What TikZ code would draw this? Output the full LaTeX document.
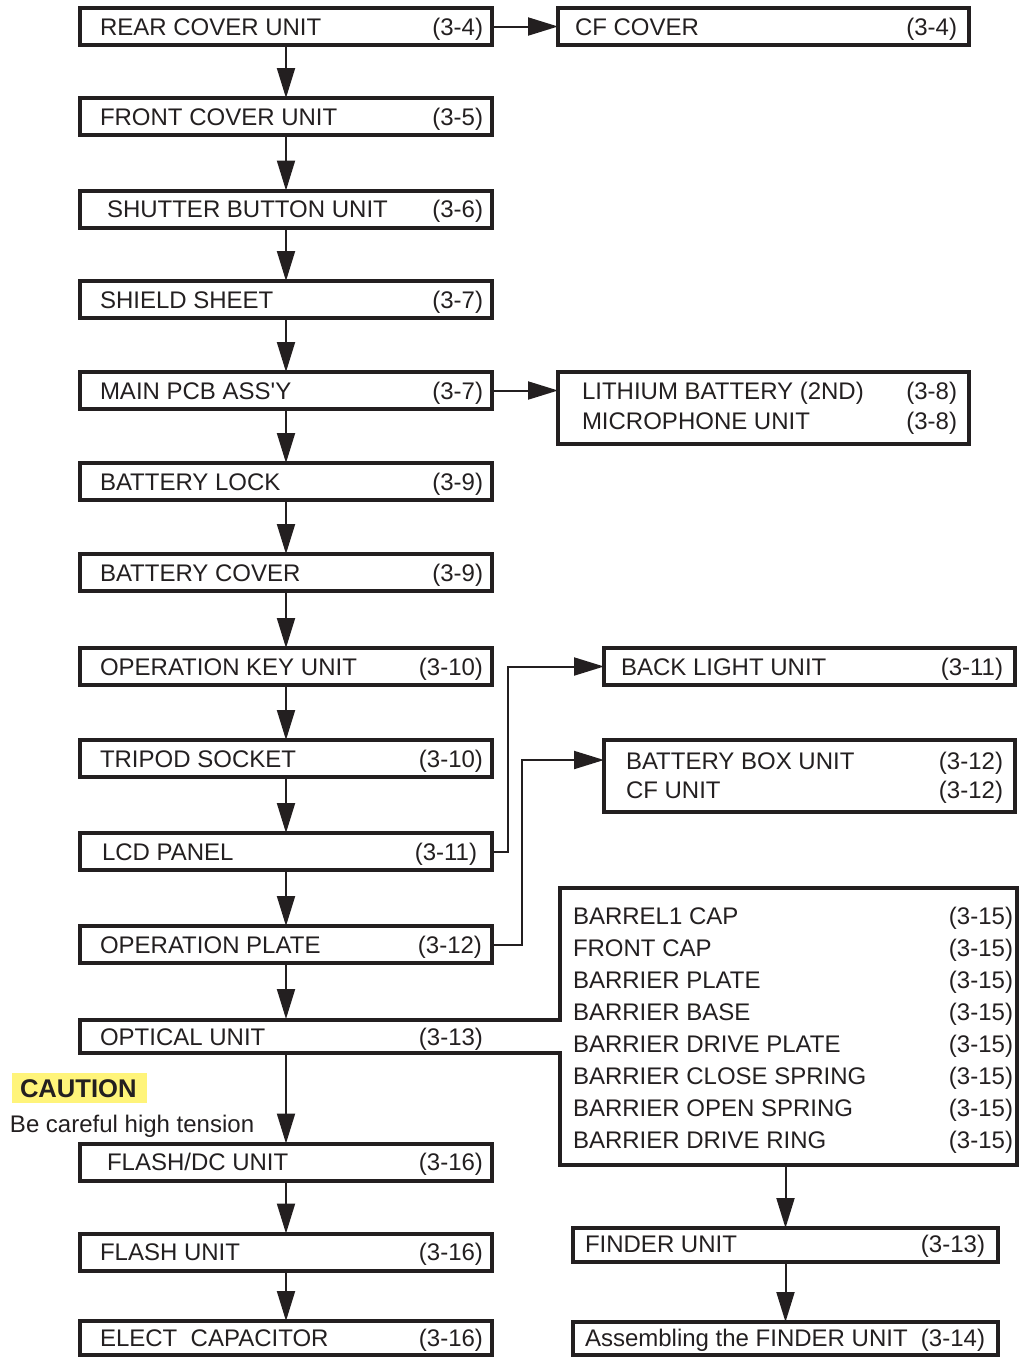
\documentclass[tikz,border=0pt]{standalone}
\usepackage{fontspec}
\setmainfont{Liberation Sans}
\usetikzlibrary{arrows.meta}
\definecolor{ink}{HTML}{231F20}
\definecolor{cauyel}{HTML}{FFF47A}
\tikzset{
  boxs/.style={draw=ink, line width=2pt, inner sep=0pt, outer sep=0pt, rectangle},
  conn/.style={draw=ink, line width=1pt, -{Triangle[length=15pt,width=9pt]}},
  txt/.style={inner sep=0pt, outer sep=0pt, text=ink, font=\fontsize{12}{14}\selectfont},
}
\newcommand\mkbox[5]{\node[boxs, minimum width={((#4)-(#2))*0.5pt}, minimum height={((#5)-(#3))*0.5pt}] (#1) at ({((#2)+(#4))/2},{((#3)+(#5))/2}) {};}
\newcommand\mktxt[5]{\node[txt, anchor=#4] (#1) at (#2,#3) {#5};}
% left column box: name, cy, label, label x, code, code x
\newcommand\mkleft[6]{%
  \mkbox{#1}{80}{(#2-18.5)}{492}{(#2+18.5)}
  \mktxt{#1-l}{#4}{#2+8.5}{base west}{#3}
  \mktxt{#1-r}{#6}{#2+8.5}{base east}{#5}}
\begin{document}
\begin{tikzpicture}[x=0.5pt,y=-0.5pt]
\useasboundingbox (0,0) rectangle (1019,1357);

% left column
\mkleft{rear}{26.5}{REAR COVER UNIT}{100}{(3-4)}{483}
\mkleft{front}{116.5}{FRONT COVER UNIT}{100}{(3-5)}{483}
\mkleft{shutter}{209}{SHUTTER BUTTON UNIT}{107}{(3-6)}{483}
\mkleft{shield}{299.5}{SHIELD SHEET}{100}{(3-7)}{483}
\mkleft{pcb}{390.5}{MAIN PCB ASS\textquotesingle Y}{100}{(3-7)}{483}
\mkleft{lock}{481.5}{BATTERY LOCK}{100}{(3-9)}{483}
\mkleft{cover}{572.5}{BATTERY COVER}{100}{(3-9)}{483}
\mkleft{opkey}{666.5}{OPERATION KEY UNIT}{100}{(3-10)}{483}
\mkleft{tripod}{758.5}{TRIPOD SOCKET}{100}{(3-10)}{483}
\mkleft{lcd}{851.5}{LCD PANEL}{102}{(3-11)}{477}
\mkleft{opplate}{944.5}{OPERATION PLATE}{100}{(3-12)}{482}
\mkleft{flashdc}{1162}{FLASH/DC UNIT}{107}{(3-16)}{483}
\mkleft{flash}{1252}{FLASH UNIT}{100}{(3-16)}{483}
\mkbox{elect}{80}{1321}{492}{1355}
\mktxt{elect-l}{100}{1346.5}{base west}{ELECT\ \ CAPACITOR}
\mktxt{elect-r}{483}{1346.5}{base east}{(3-16)}

% optical unit merged with barrel box
\coordinate (optNW) at (80,1020);
\coordinate (optSW) at (80,1053);
\coordinate (barJ1) at (560,1020);
\coordinate (barNW) at (560,888);
\coordinate (barNE) at (1017,888);
\coordinate (barSE) at (1017,1165);
\coordinate (barSW) at (560,1165);
\coordinate (barJ2) at (560,1053);
\draw[draw=ink, line width=2pt, line join=miter]
  (optNW) -- (barJ1) -- (barNW) -- (barNE) -- (barSE) -- (barSW) -- (barJ2) -- (optSW) -- cycle;
\mktxt{opt-l}{100}{1045}{base west}{OPTICAL UNIT}
\mktxt{opt-r}{483}{1045}{base east}{(3-13)}
\coordinate (optN) at (286,1019);
\coordinate (optS) at (286,1054);

\foreach \t [count=\i from 0] in {BARREL1 CAP,FRONT CAP,BARRIER PLATE,BARRIER BASE,BARRIER DRIVE PLATE,BARRIER CLOSE SPRING,BARRIER OPEN SPRING,BARRIER DRIVE RING}{
  \mktxt{bar-l\i}{573}{916+32*\i+8.5}{base west}{\t}
  \mktxt{bar-r\i}{1013}{916+32*\i+8.5}{base east}{(3-15)}
}

% right boxes
\mkbox{cf}{558}{8}{969}{45}
\mktxt{cf-l}{575}{35}{base west}{CF COVER}
\mktxt{cf-r}{957}{35}{base east}{(3-4)}

\mkbox{lith}{558}{372}{969}{444}
\mktxt{lith-l1}{582}{399.5}{base west}{LITHIUM BATTERY (2ND)}
\mktxt{lith-r1}{957}{399.5}{base east}{(3-8)}
\mktxt{lith-l2}{582}{429.5}{base west}{MICROPHONE UNIT}
\mktxt{lith-r2}{957}{429.5}{base east}{(3-8)}

\mkbox{back}{604}{648}{1015}{685}
\mktxt{back-l}{621}{675}{base west}{BACK LIGHT UNIT}
\mktxt{back-r}{1003}{675}{base east}{(3-11)}

\mkbox{bbox}{604}{740}{1015}{812}
\mktxt{bbox-l1}{626}{769.5}{base west}{BATTERY BOX UNIT}
\mktxt{bbox-r1}{1003}{769.5}{base east}{(3-12)}
\mktxt{bbox-l2}{626}{798.5}{base west}{CF UNIT}
\mktxt{bbox-r2}{1003}{798.5}{base east}{(3-12)}

\mkbox{finder}{573}{1228}{998}{1262}
\mktxt{finder-l}{585}{1252.5}{base west}{FINDER UNIT}
\mktxt{finder-r}{985}{1252.5}{base east}{(3-13)}

\mkbox{assem}{573}{1322}{998}{1355}
\mktxt{assem-l}{585}{1346.5}{base west}{Assembling the FINDER UNIT}
\mktxt{assem-r}{985}{1346.5}{base east}{(3-14)}

% caution
\node[fill=cauyel, inner sep=0pt, minimum width=67.5pt, minimum height=15pt] (caubg) at (79.5,1088) {};
\node[txt, font=\fontsize{12.8}{15}\selectfont\bfseries, anchor=base west] (cau) at (20,1097.5) {CAUTION};
\mktxt{caut2}{10}{1132.5}{base west}{Be careful high tension}

% connectors
\draw[conn] (rear.south) -- (front.north);
\draw[conn] (front.south) -- (shutter.north);
\draw[conn] (shutter.south) -- (shield.north);
\draw[conn] (shield.south) -- (pcb.north);
\draw[conn] (pcb.south) -- (lock.north);
\draw[conn] (lock.south) -- (cover.north);
\draw[conn] (cover.south) -- (opkey.north);
\draw[conn] (opkey.south) -- (tripod.north);
\draw[conn] (tripod.south) -- (lcd.north);
\draw[conn] (lcd.south) -- (opplate.north);
\draw[conn] (opplate.south) -- (optN);
\draw[conn] (optS) -- (flashdc.north);
\draw[conn] (flashdc.south) -- (flash.north);
\draw[conn] (flash.south) -- (elect.north);

\draw[conn] (rear.east) -- (cf.west);
\draw[conn] (pcb.east) -- (pcb.east -| lith.west);
\coordinate (backin) at (back.west);
\draw[conn] (lcd.east) -- ++(16,0) |- (backin);
\coordinate (bboxin) at (bbox.west |- 0,760);
\draw[conn] (opplate.east) -- ++(30,0) |- (bboxin);
\coordinate (barS) at (finder.north |- 0,1166);
\draw[conn] (barS) -- (finder.north);
\draw[conn] (finder.south) -- (assem.north);
\end{tikzpicture}
\end{document}
